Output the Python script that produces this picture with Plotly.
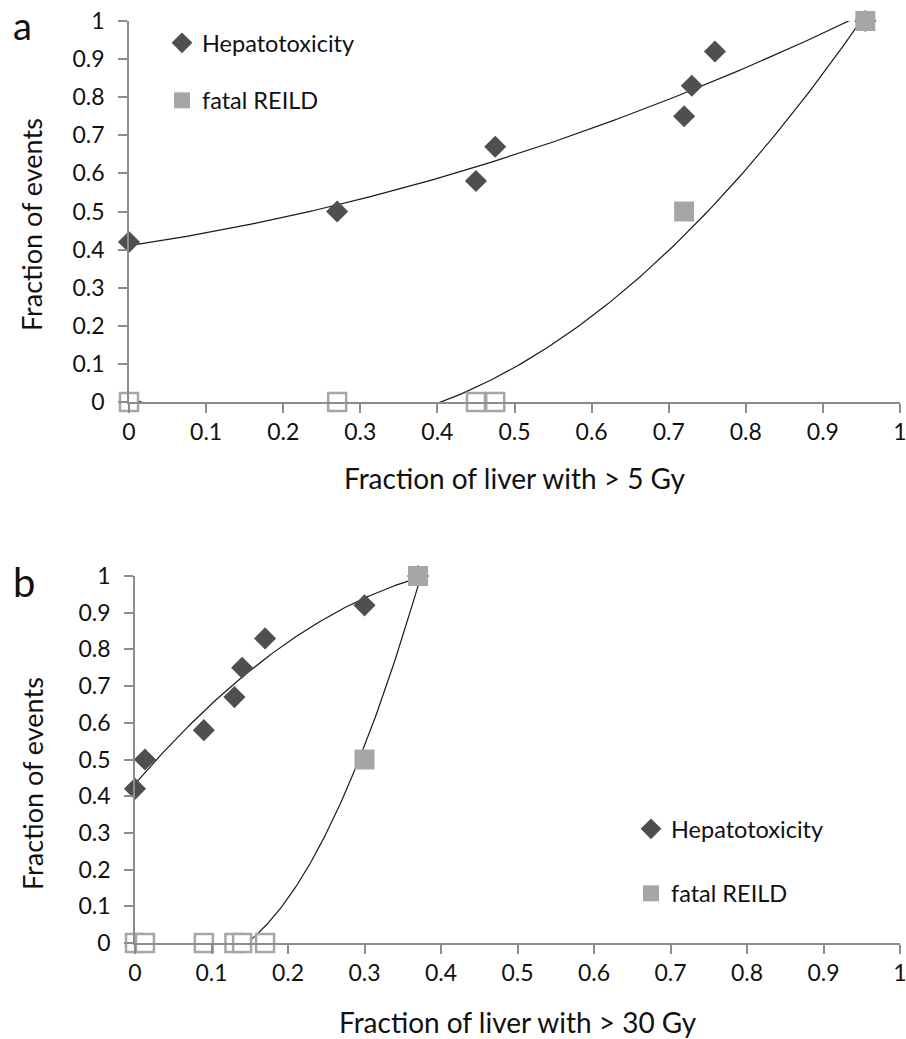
import numpy as np
import plotly.graph_objects as go

# ---------------- data ----------------
# Panel a: fraction of liver with > 5 Gy
a_hep_x = [0.0, 0.27, 0.45, 0.475, 0.72, 0.73, 0.76, 0.955]
a_hep_y = [0.42, 0.50, 0.58, 0.67, 0.75, 0.83, 0.92, 1.0]
a_reild_x = [0.0, 0.27, 0.45, 0.475, 0.72, 0.955]
a_reild_y = [0.0, 0.0, 0.0, 0.0, 0.5, 1.0]

# Panel b: fraction of liver with > 30 Gy
b_hep_x = [0.0, 0.013, 0.09, 0.13, 0.14, 0.17, 0.30, 0.37]
b_hep_y = [0.42, 0.50, 0.58, 0.67, 0.75, 0.83, 0.92, 1.0]
b_reild_x = [0.0, 0.013, 0.09, 0.13, 0.14, 0.17, 0.30, 0.37]
b_reild_y = [0.0, 0.0, 0.0, 0.0, 0.0, 0.0, 0.5, 1.0]

x_ticks = [0, 0.1, 0.2, 0.3, 0.4, 0.5, 0.6, 0.7, 0.8, 0.9, 1]
y_ticks = [0, 0.1, 0.2, 0.3, 0.4, 0.5, 0.6, 0.7, 0.8, 0.9, 1]

# ---------------- styles ----------------
FONT = "Lato"
HEP_COLOR = "#4f4f4f"
REILD_COLOR = "#a6a6a6"
AXIS_COLOR = "#8c8c8c"
TXT = "#111111"


def trend(xs, ys):
    c = np.polyfit(xs, ys, 2)
    gx = np.linspace(min(xs), max(xs), 200)
    return gx, np.polyval(c, gx)


fig = go.Figure()


def add_panel(hx, hy, rx, ry, xa, ya, legend):
    # polynomial (order 2) trendlines
    for xs, ys in ((hx, hy), (rx, ry)):
        gx, gy = trend(xs, ys)
        fig.add_trace(go.Scatter(x=gx, y=gy, mode="lines", xaxis=xa, yaxis=ya,
                                 line=dict(color="#1a1a1a", width=1.2),
                                 showlegend=False, hoverinfo="skip"))
    fig.add_trace(go.Scatter(x=hx, y=hy, mode="markers", name="Hepatotoxicity",
                             xaxis=xa, yaxis=ya, legend=legend, legendgroup="h",
                             cliponaxis=False,
                             marker=dict(symbol="diamond", size=17, color=HEP_COLOR)))
    zx = [x for x, y in zip(rx, ry) if y == 0]
    zy = [y for y in ry if y == 0]
    fx = [x for x, y in zip(rx, ry) if y != 0]
    fy = [y for y in ry if y != 0]
    fig.add_trace(go.Scatter(x=zx, y=zy, mode="markers", xaxis=xa, yaxis=ya,
                             cliponaxis=False, showlegend=False,
                             marker=dict(symbol="square", size=18, color="white",
                                         line=dict(color=REILD_COLOR, width=2.5))))
    fig.add_trace(go.Scatter(x=fx, y=fy, mode="markers", name="fatal REILD",
                             xaxis=xa, yaxis=ya, legend=legend, legendgroup="r",
                             cliponaxis=False,
                             marker=dict(symbol="square", size=20, color=REILD_COLOR)))


add_panel(a_hep_x, a_hep_y, a_reild_x, a_reild_y, "x", "y", "legend")
add_panel(b_hep_x, b_hep_y, b_reild_x, b_reild_y, "x2", "y2", "legend2")

W, H = 906, 1039

axis_common = dict(range=[0, 1], showgrid=False, zeroline=False, showline=True,
                   automargin=False, ticklabeloverflow="allow",
                   linecolor=AXIS_COLOR, linewidth=1.5, ticks="outside",
                   ticklen=9, tickcolor=AXIS_COLOR, tickwidth=1.5,
                   tickfont=dict(family=FONT, size=23, color=TXT))


def py(px):
    return (H - px) / H


def px_(x):
    return x / W


fig.update_layout(
    width=W, height=H, margin=dict(l=0, r=0, t=0, b=0, pad=0),
    paper_bgcolor="white", plot_bgcolor="white",
    font=dict(family=FONT, color=TXT),
    xaxis=dict(domain=[px_(129), px_(900)], anchor="y", tickvals=x_ticks,
               ticktext=[f"{v:g}" for v in x_ticks], **axis_common),
    yaxis=dict(domain=[py(402), py(21)], anchor="x", tickvals=y_ticks,
               ticktext=[f"{v:g}" for v in y_ticks], ticklabelstandoff=9, **axis_common),
    xaxis2=dict(domain=[px_(135), px_(900)], anchor="y2", tickvals=x_ticks,
                ticktext=[f"{v:g}" for v in x_ticks], **axis_common),
    yaxis2=dict(domain=[py(943), py(576)], anchor="x2", tickvals=y_ticks,
                ticktext=[f"{v:g}" for v in y_ticks], ticklabelstandoff=9, **axis_common),
    legend=dict(x=px_(162), y=py(21), xanchor="left", yanchor="top",
                bgcolor="rgba(0,0,0,0)", font=dict(family=FONT, size=23.5),
                traceorder="grouped", tracegroupgap=24, itemwidth=30),
    legend2=dict(x=px_(631), y=py(807), xanchor="left", yanchor="top",
                 bgcolor="rgba(0,0,0,0)", font=dict(family=FONT, size=23.5),
                 traceorder="grouped", tracegroupgap=31, itemwidth=30),
    annotations=[
        dict(text="a", x=px_(11), y=py(0), xref="paper", yref="paper",
             xanchor="left", yanchor="top", showarrow=False,
             font=dict(family=FONT, size=38, color=TXT)),
        dict(text="b", x=px_(11), y=py(582), xref="paper", yref="paper",
             xanchor="left", yanchor="middle", showarrow=False,
             font=dict(family=FONT, size=40, color=TXT)),
        dict(text="Fraction of liver with > 5 Gy", x=px_(514), y=py(478),
             xref="paper", yref="paper", showarrow=False, xanchor="center",
             yanchor="middle", font=dict(family=FONT, size=28, color=TXT)),
        dict(text="Fraction of liver with > 30 Gy", x=px_(518), y=py(1022),
             xref="paper", yref="paper", showarrow=False, xanchor="center",
             yanchor="middle", font=dict(family=FONT, size=28, color=TXT)),
        dict(text="Fraction of events", x=px_(32), y=py(225), textangle=-90,
             xref="paper", yref="paper", showarrow=False, xanchor="center",
             yanchor="middle", font=dict(family=FONT, size=27, color=TXT)),
        dict(text="Fraction of events", x=px_(32), y=py(784), textangle=-90,
             xref="paper", yref="paper", showarrow=False, xanchor="center",
             yanchor="middle", font=dict(family=FONT, size=27, color=TXT)),
    ],
)

fig.write_html("out.html")
